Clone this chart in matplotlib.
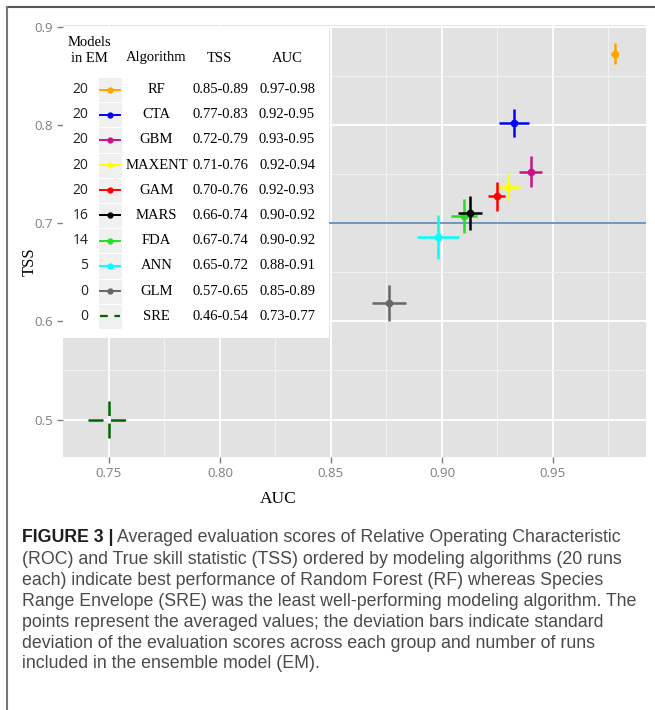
import matplotlib
matplotlib.use("Agg")
import matplotlib.pyplot as plt
from matplotlib.patches import Rectangle
from matplotlib.lines import Line2D

# data
algorithms = ["RF", "CTA", "GBM", "MAXENT", "GAM", "MARS", "FDA", "ANN", "GLM", "SRE"]
models_in_em = [20, 20, 20, 20, 20, 16, 14, 5, 0, 0]
tss_range = ["0.85-0.89", "0.77-0.83", "0.72-0.79", "0.71-0.76", "0.70-0.76",
             "0.66-0.74", "0.67-0.74", "0.65-0.72", "0.57-0.65", "0.46-0.54"]
auc_range = ["0.97-0.98", "0.92-0.95", "0.93-0.95", "0.92-0.94", "0.92-0.93",
             "0.90-0.92", "0.90-0.92", "0.88-0.91", "0.85-0.89", "0.73-0.77"]
auc_mean = [0.9778, 0.9324, 0.9400, 0.9296, 0.9246, 0.9125, 0.9099, 0.8982, 0.8761, 0.7500]
auc_sd = [0.0017, 0.0068, 0.0052, 0.0054, 0.0038, 0.0054, 0.0059, 0.0093, 0.0076, 0.0094]
tss_mean = [0.8722, 0.8016, 0.7523, 0.7370, 0.7272, 0.7105, 0.7071, 0.6860, 0.6188, 0.5000]
tss_sd = [0.0107, 0.0143, 0.0158, 0.0136, 0.0148, 0.0173, 0.0176, 0.0226, 0.0181, 0.0190]
colors = ["#FFA500", "#0000FF", "#C71585", "#FFFF00", "#FF0000",
          "#000000", "#22E022", "#00FFFF", "#666666", "#006400"]
tss_threshold = 0.7

caption_head = "FIGURE 3 |"
caption_first = "Averaged evaluation scores of Relative Operating Characteristic"
caption_lines = [
    "(ROC) and True skill statistic (TSS) ordered by modeling algorithms (20 runs",
    "each) indicate best performance of Random Forest (RF) whereas Species",
    "Range Envelope (SRE) was the least well-performing modeling algorithm. The",
    "points represent the averaged values; the deviation bars indicate standard",
    "deviation of the evaluation scores across each group and number of runs",
    "included in the ensemble model (EM).",
]

W, H = 655, 710


def fx(px):
    return px / W


def fy(py):
    return 1 - py / H


fig = plt.figure(figsize=(W / 100, H / 100), dpi=100)
fig.patch.set_facecolor("white")

# frame lines of the page
fig.add_artist(Line2D([fx(7), 1], [fy(6.7), fy(6.7)], color="#555555", lw=1.5))
fig.add_artist(Line2D([fx(7), fx(7)], [fy(6.7), 0], color="#777777", lw=1.5))

ax = fig.add_axes([fx(62.5), fy(457), fx(646) - fx(62.5), fy(25) - fy(457)])
ax.set_facecolor("#E2E2E2")
ax.set_xlim(0.7291, 0.9919)
ax.set_ylim(0.4619, 0.9017)
for s in ax.spines.values():
    s.set_visible(False)

ax.set_xticks([0.75, 0.80, 0.85, 0.90, 0.95])
ax.set_xticklabels(["0.75", "0.80", "0.85", "0.90", "0.95"])
ax.set_yticks([0.5, 0.6, 0.7, 0.8, 0.9])
ax.set_yticklabels(["0.5", "0.6", "0.7", "0.8", "0.9"])
ax.set_xticks([0.775, 0.825, 0.875, 0.925, 0.975], minor=True)
ax.set_yticks([0.55, 0.65, 0.75, 0.85], minor=True)
ax.tick_params(which="major", color="#7F7F7F", length=4, width=1,
               labelcolor="#7F7F7F", labelsize=9.5, pad=3)
ax.tick_params(which="minor", length=0)
for lab in ax.get_xticklabels() + ax.get_yticklabels():
    lab.set_family("Open Sans")
ax.grid(which="major", color="white", lw=1.3)
ax.grid(which="minor", color="#F2F2F2", lw=0.7)
ax.set_axisbelow(True)

ax.axhline(tss_threshold, color="#5E84AE", lw=1.2, zorder=2)

order = [0, 1, 2, 3, 4, 6, 5, 7, 8, 9]  # MARS drawn over FDA
for i in order:
    alg = algorithms[i]
    ls = (0, (6, 3)) if alg == "SRE" else "-"
    ax.plot([auc_mean[i] - auc_sd[i], auc_mean[i] + auc_sd[i]], [tss_mean[i]] * 2,
            color=colors[i], lw=1.8, ls=ls, solid_capstyle="butt", zorder=3)
    ax.plot([auc_mean[i]] * 2, [tss_mean[i] - tss_sd[i], tss_mean[i] + tss_sd[i]],
            color=colors[i], lw=1.8, ls=ls, solid_capstyle="butt", zorder=3)
    if alg != "SRE":
        ax.plot(auc_mean[i], tss_mean[i], "o", color=colors[i], ms=4.5, zorder=3)

fig.text(fx(30), fy(262), "TSS", rotation=90, ha="center", va="center",
         family="Liberation Serif", fontsize=12)
fig.text(fx(278), fy(499), "AUC", ha="center", va="center",
         family="Liberation Serif", fontsize=12.5)

# legend table
fig.add_artist(Rectangle((fx(62.5), fy(338)), fx(329) - fx(62.5), fy(28) - fy(338),
                         facecolor="white", edgecolor="none", zorder=5))
serif = dict(family="Liberation Serif", fontsize=10.5, zorder=6, va="center")
fig.text(fx(68), fy(43), "Models", ha="left", **serif)
fig.text(fx(71), fy(58), "in EM", ha="left", **serif)
fig.text(fx(156.5), fy(58), "Algorithm", ha="center", **serif)
fig.text(fx(219), fy(58), "TSS", ha="center", **serif)
fig.text(fx(287), fy(58), "AUC", ha="center", **serif)

row_y0, row_dy = 89.5, 25.2
for i, alg in enumerate(algorithms):
    yy = row_y0 + i * row_dy
    fig.add_artist(Rectangle((fx(98), fy(yy + row_dy / 2)), fx(122) - fx(98),
                             fy(yy - row_dy / 2) - fy(yy + row_dy / 2),
                             facecolor="#F0F0F0", edgecolor="white", lw=0.8,
                             zorder=6))
    if alg == "SRE":
        fig.add_artist(Line2D([fx(100), fx(120)], [fy(yy), fy(yy)], color=colors[i],
                              lw=1.6, ls=(0, (3.5, 3)), zorder=7))
    else:
        fig.add_artist(Line2D([fx(100), fx(120)], [fy(yy), fy(yy)], color=colors[i],
                              lw=1.4, zorder=7))
        fig.add_artist(Line2D([fx(110)], [fy(yy)], color=colors[i], marker="o",
                              ms=3.5, zorder=7))
    fig.text(fx(88.5), fy(yy), str(models_in_em[i]), ha="right", va="center",
             family="Open Sans", fontsize=10, color="#222222", zorder=6)
    fig.text(fx(156.5), fy(yy), alg, ha="center", **serif)
    fig.text(fx(220.5), fy(yy), tss_range[i], ha="center", **serif)
    fig.text(fx(287), fy(yy), auc_range[i], ha="center", **serif)

# caption: size chosen so the first line ends where it does in the figure
cap_x, cap_right = 21.7, 621
fs = 12.0
cap = dict(family="Liberation Sans", va="center", ha="left")
t0 = fig.text(fx(cap_x), fy(538), caption_head, fontweight="bold", fontsize=fs,
              color="#1E1E1E", **cap)
t1 = fig.text(0, fy(538), caption_first, fontsize=fs, color="#4A4A4A", **cap)
for _ in range(3):
    t0.set_fontsize(fs)
    t1.set_fontsize(fs)
    fig.canvas.draw()
    b0 = t0.get_window_extent()
    t1.set_x((b0.x1 + fs * 0.3) / W)
    fig.canvas.draw()
    b1 = t1.get_window_extent()
    fs = fs * (cap_right - cap_x) / (b1.x1 - cap_x)
t0.set_fontsize(fs)
t1.set_fontsize(fs)
fig.canvas.draw()
t1.set_x((t0.get_window_extent().x1 + fs * 0.3) / W)
for k, line in enumerate(caption_lines):
    fig.text(fx(cap_x), fy(559.5 + k * 20.9), line, fontsize=fs, color="#4A4A4A",
             **cap)

fig.savefig("out.png", dpi=100)
